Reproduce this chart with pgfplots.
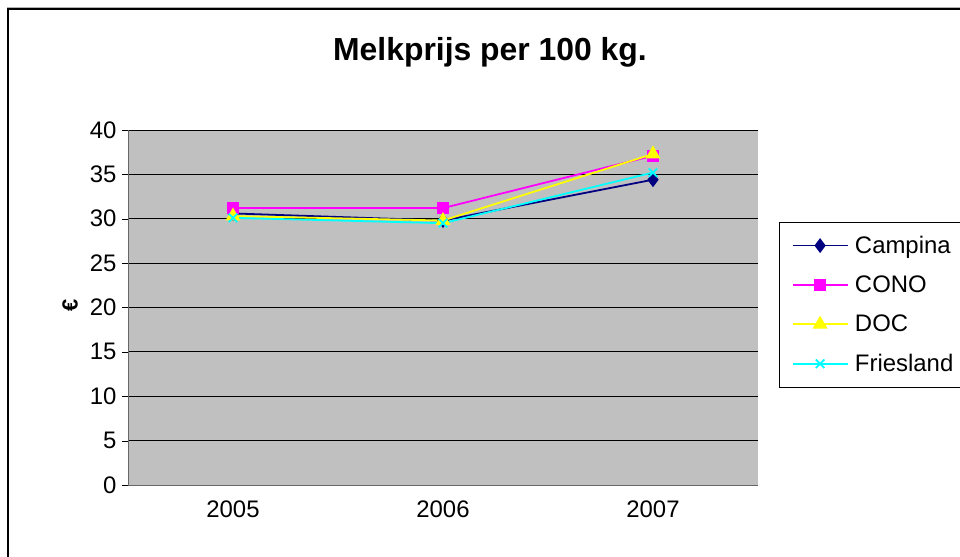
\documentclass[border=0pt]{standalone}
\usepackage{pgfplots}
\pgfplotsset{compat=1.18}
\usepackage{fontspec}
\setmainfont{Liberation Sans}
\definecolor{plotbg}{RGB}{192,192,192}
\definecolor{campina}{RGB}{0,0,128}
\definecolor{cono}{RGB}{255,0,255}
\definecolor{doc}{RGB}{255,255,0}
\definecolor{fries}{RGB}{0,255,255}
\begin{document}
\begin{tikzpicture}[x=1bp,y=1bp]
\useasboundingbox (-128bp,-72bp) rectangle (832bp,485bp);
\begin{axis}[
  at={(0,0)}, anchor=south west,
  scale only axis, width=630bp, height=355bp,
  xmin=0, xmax=3, ymin=0, ymax=40,
  xtick={0.5,1.5,2.5}, xticklabels={2005,2006,2007},
  extra x ticks={0,1,2,3}, extra x tick labels={},
  extra x tick style={major tick length=6bp, tick align=outside, xticklabel=\empty, grid=none},
  ytick={0,5,...,40},
  ymajorgrids, major grid style={black, line width=0.8pt},
  major x tick style={draw=none},
  ytick style={black},
  tick align=outside, major tick length=6bp,
  axis background/.style={fill=plotbg},
  axis line style={draw=gray!80!black},
  axis x line*=bottom, axis y line*=left,
  /pgf/number format/assume math mode=true,
  ticklabel style={font=\fontsize{24}{24}\selectfont},
  ylabel={\textbf{€}}, ylabel style={font=\fontsize{22}{24}\selectfont, rotate=0, at={(-58bp,180bp)}, anchor=center},
  x tick label style={yshift=-6bp},
  y tick label style={xshift=-2bp},
  legend style={at={(651bp,263bp)}, anchor=north west, draw=black, fill=white,
    font=\fontsize{24}{24}\selectfont, row sep=17bp, inner xsep=13bp, inner ysep=12bp},
  legend cell align=left,
  legend image code/.code={\draw[mark repeat=2,mark phase=2] plot coordinates {(0bp,0bp) (27bp,0bp) (55bp,0bp)};},
  every axis plot/.append style={line width=1.8pt},
]
\addplot[campina, mark=diamond*, mark size=6bp, mark options={fill=campina}] coordinates {(0.5,30.6) (1.5,29.8) (2.5,34.4)};
\addplot[cono, mark=square*, mark size=5.2bp, mark options={fill=cono}] coordinates {(0.5,31.2) (1.5,31.2) (2.5,37.1)};
\addplot[doc, mark=triangle*, mark size=6.8bp, mark options={fill=doc}] coordinates {(0.5,30.3) (1.5,29.8) (2.5,37.3)};
\addplot[fries, mark=x, mark size=6bp] coordinates {(0.5,30.1) (1.5,29.5) (2.5,35.2)};
\legend{\hspace{4bp}Campina,\hspace{4bp}CONO,\hspace{4bp}DOC,\hspace{4bp}Friesland}
\end{axis}
\node[font=\bfseries\fontsize{32}{34}\selectfont] at (362bp,433bp) {Melkprijs per 100 kg.};
\draw[black, line width=1.2pt] (-120bp,-80bp) -- (-120bp,476bp) -- (850bp,476bp);
\draw[gray!60, line width=0.8pt] (-121bp,477.3bp) -- (850bp,477.3bp);
\end{tikzpicture}
\end{document}
